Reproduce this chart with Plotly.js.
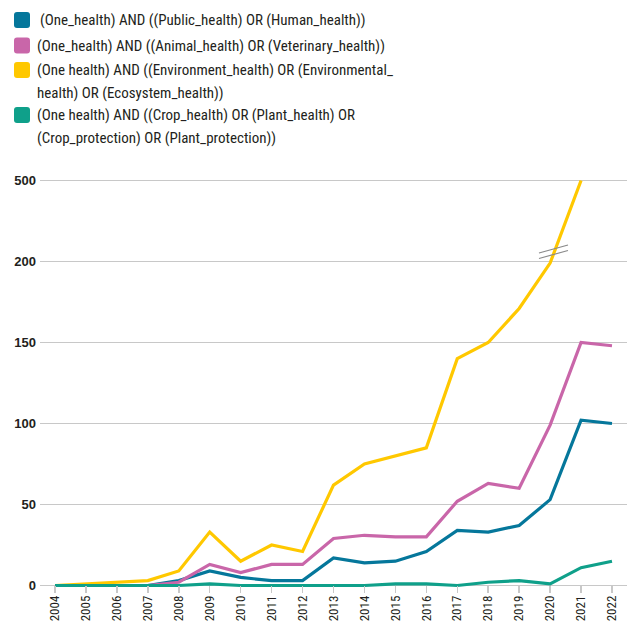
<!DOCTYPE html>
<html>
<head>
<meta charset="utf-8">
<script src="https://cdn.plot.ly/plotly-3.0.1.min.js"></script>
<style>html,body{margin:0;padding:0;background:#fff;}#chart{width:627px;height:621px;}</style>
</head>
<body>
<div id="chart"></div>
<script>
// ---- data ----
const years = [2004,2005,2006,2007,2008,2009,2010,2011,2012,2013,2014,2015,2016,2017,2018,2019,2020,2021,2022];
const yearLabels = ["2004","2005","2006","2007","2008","2009","2010","2011","2012","2013","2014","2015","2016","2017","2018","2019","2020","2021","2022"];
const publicHealth = [0,0,0,0,3,9,5,3,3,17,14,15,21,34,33,37,53,102,100];
const animalHealth = [null,null,0,0,2,13,8,13,13,29,31,30,30,52,63,60,99,150,148];
const environmentHealth = [0,1,2,3,9,33,15,25,21,62,75,80,85,140,150,171,199,500,null];
const plantHealth = [0,0,0,0,0,1,0,0,0,0,0,1,1,0,2,3,1,11,15];
const seriesNames = [
  ["(One_health) AND ((Public_health) OR (Human_health))"],
  ["(One_health) AND ((Animal_health) OR (Veterinary_health))"],
  ["(One health) AND ((Environment_health) OR (Environmental_", "health) OR (Ecosystem_health))"],
  ["(One health) AND ((Crop_health) OR (Plant_health) OR", "(Crop_protection) OR (Plant_protection))"]
];
const yTickValues = [0,50,100,150,200,500];
const yTickLabels = ["0","50","100","150","200","500"];

// ---- styles ----
const colors = ["#05779b","#c966a9","#ffc800","#0fa08a"];
const W = 627, H = 621, ML = 40, MR = 0, MT = 178, MB = 31;
const plotW = W - ML - MR, plotH = H - MT - MB;
// broken axis: 0-200 linear, 200-500 compressed into one 50-unit band
function brk(v){ if (v === null) return null; return v <= 200 ? v : 200 + (v - 200) * 50 / 300; }
const yRange = [-2.78, 251.54];
function px(x){ return (x - ML) / plotW; }
function py(y){ return (H - MB - y) / plotH; }
const zeroPaper = (0 - yRange[0]) / (yRange[1] - yRange[0]);

const series = [publicHealth, animalHealth, environmentHealth, plantHealth];
const traces = series.map((s, i) => ({
  x: years,
  y: s.map(brk),
  type: 'scatter',
  mode: 'lines',
  line: {color: colors[i], width: 3.2},
  connectgaps: false,
  showlegend: false,
  hoverinfo: 'skip'
}));

const condensed = "'Roboto Condensed', 'Liberation Sans', sans-serif";
const annotations = [];
const shapes = [];
const legendY = [[20],[45.5],[70,92.5],[115,137.5]];
const legendX = [38,35,35,35];
seriesNames.forEach((lines, i) => {
  lines.forEach((t, j) => {
    annotations.push({
      xref: 'paper', yref: 'paper', x: px(legendX[i]), y: py(legendY[i][j]),
      xanchor: 'left', yanchor: 'middle', showarrow: false, align: 'left',
      text: t, font: {family: condensed, size: 15, color: '#231f20'}
    });
  });
  // rounded square marker
  const cx = 22, cy = legendY[i][0], s = 8, r = 3;
  const x0 = cx - s, x1 = cx + s, y0 = cy - s, y1 = cy + s;
  const P = (x, y) => px(x) + ',' + py(y);
  const path = 'M' + P(x0 + r, y0) + ' L' + P(x1 - r, y0) + ' Q' + P(x1, y0) + ' ' + P(x1, y0 + r) +
    ' L' + P(x1, y1 - r) + ' Q' + P(x1, y1) + ' ' + P(x1 - r, y1) +
    ' L' + P(x0 + r, y1) + ' Q' + P(x0, y1) + ' ' + P(x0, y1 - r) +
    ' L' + P(x0, y0 + r) + ' Q' + P(x0, y0) + ' ' + P(x0 + r, y0) + ' Z';
  shapes.push({type: 'path', xref: 'paper', yref: 'paper', path: path, fillcolor: colors[i], line: {width: 0}});
});
// axis-break marks
[[539,253,568,245],[539,258.5,568,250.5]].forEach(s => {
  shapes.push({type: 'line', xref: 'paper', yref: 'paper', x0: px(s[0]), y0: py(s[1]), x1: px(s[2]), y1: py(s[3]),
    line: {color: '#8a8a8a', width: 1.2}, layer: 'above'});
});

const layout = {
  width: W, height: H,
  margin: {l: ML, r: MR, t: MT, b: MB},
  paper_bgcolor: '#fff', plot_bgcolor: '#fff',
  showlegend: false,
  xaxis: {
    type: 'linear',
    range: [2003.515, 2022.485],
    tickmode: 'array', tickvals: years, ticktext: yearLabels,
    tickangle: -90,
    ticks: 'outside', ticklen: 7, tickwidth: 1.5, tickcolor: '#c8c8c8',
    ticklabelstandoff: -3,
    showgrid: false, zeroline: false, showline: false,
    anchor: 'free', position: zeroPaper,
    tickfont: {family: condensed, size: 13, color: '#231f20'}
  },
  yaxis: {
    range: yRange,
    tickmode: 'array', tickvals: yTickValues.map(brk), ticktext: yTickLabels,
    showgrid: true, gridcolor: '#c8c8c8', gridwidth: 1.5,
    zeroline: false, showline: false, ticks: '',
    ticklabelstandoff: 3,
    tickfont: {family: "'Liberation Sans', sans-serif", size: 13, color: '#231f20', weight: 'bold'}
  },
  annotations: annotations,
  shapes: shapes
};

Plotly.newPlot('chart', traces, layout, {displayModeBar: false, staticPlot: true});
</script>
</body>
</html>
